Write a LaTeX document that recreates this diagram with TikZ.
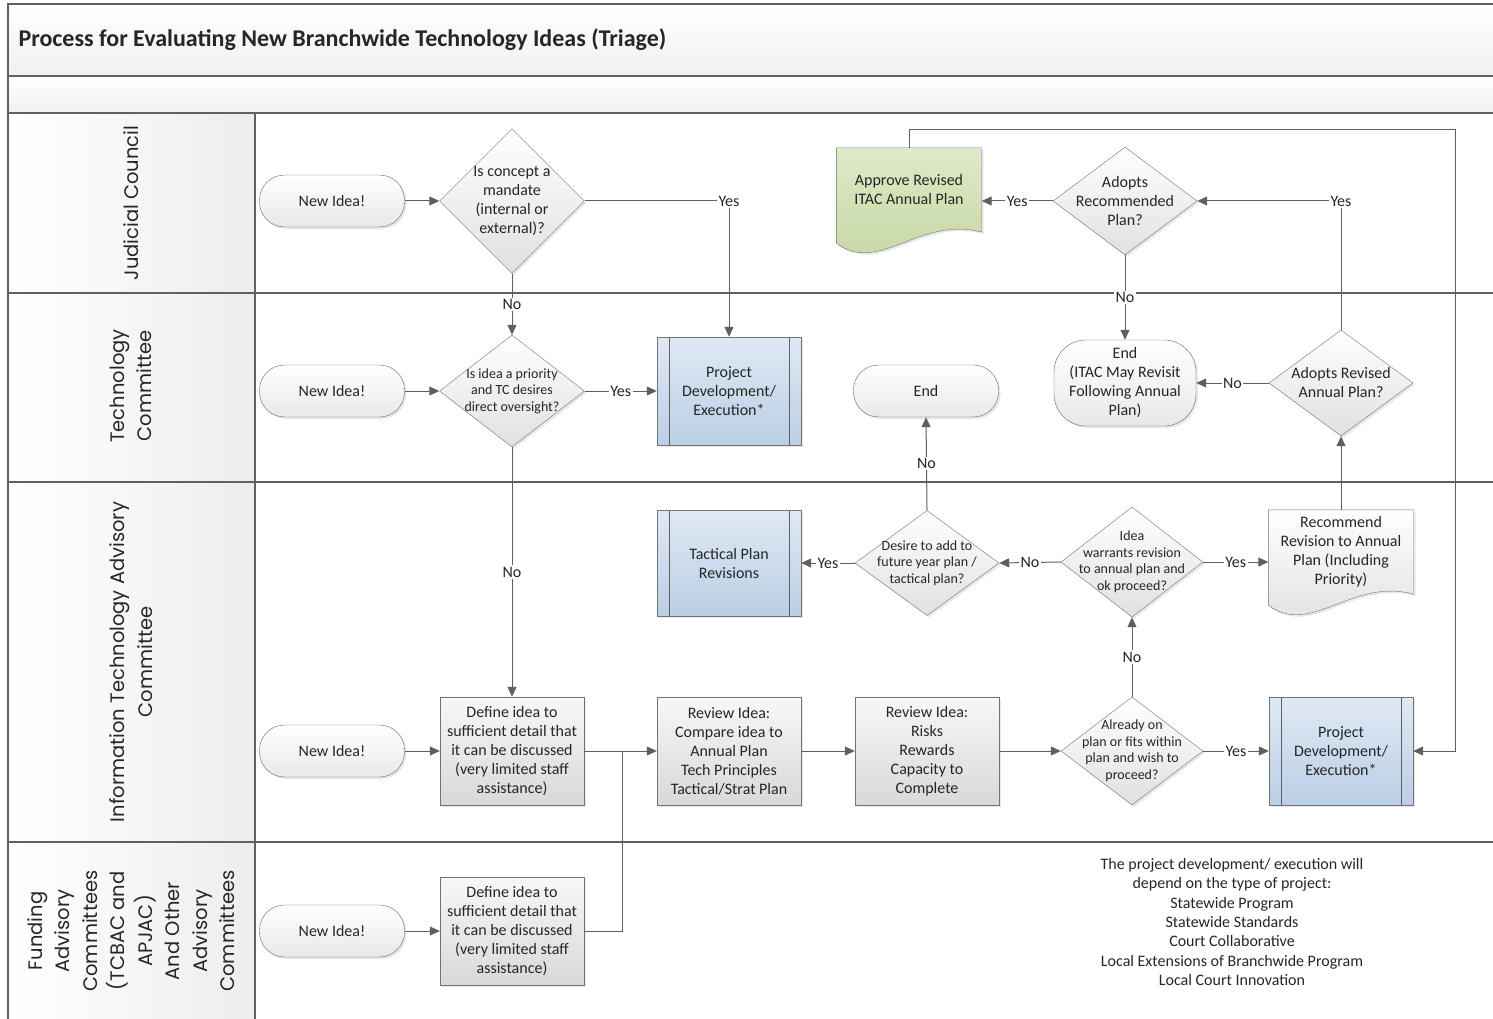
\documentclass[tikz,border=0pt]{standalone}
\usepackage{fontspec}
\setmainfont{Carlito}
\newfontfamily\lanefont{Poppins}
\usetikzlibrary{shapes.geometric, arrows.meta, shadows, backgrounds}

\definecolor{linegray}{RGB}{95,95,95}
\definecolor{subtop}{RGB}{223,233,244}
\definecolor{subbot}{RGB}{186,206,229}
\definecolor{greentop}{RGB}{222,233,200}
\definecolor{greenbot}{RGB}{196,214,160}

% outline of a document shape around a node
\newcommand{\docpath}[1]{(#1.north west) -- (#1.north east) -- (#1.south east)
  .. controls +(-62,-17) and +(43,32) .. ([yshift=-11pt]#1.south west) -- cycle}

\begin{document}
\begin{tikzpicture}[x=1pt, y=-1pt,
  every node/.style={font=\fontsize{16}{19}\selectfont, text=black!85, align=center},
  lane/.style={draw=black!62, line width=1.6pt},
  flow/.style={draw=linegray, line width=1pt, -{Triangle[length=10pt,width=9pt]}},
  plainline/.style={draw=linegray, line width=1pt},
  lbl/.style={fill=white, inner sep=1.5pt},
  softshadow/.style={drop shadow={opacity=0.18, shadow xshift=2pt, shadow yshift=-2pt}},
  term/.style={rectangle, rounded corners=25pt, draw=black!60, top color=white, bottom color=black!9,
    minimum width=145pt, minimum height=52pt, softshadow},
  endbig/.style={term, rounded corners=32pt, minimum width=142pt, minimum height=86pt},
  decide/.style={diamond, aspect=1.3, inner sep=-12pt, draw=black!55, top color=white, bottom color=black!12,
    minimum width=145pt, minimum height=108pt, softshadow},
  smalltxt/.style={font=\fontsize{14}{16.5}\selectfont},
  procbox/.style={rectangle, draw=black!55, top color=black!3, bottom color=black!15,
    minimum width=144pt, minimum height=108pt, inner sep=1pt, softshadow},
  subproc/.style={procbox, top color=subtop, bottom color=subbot,
    path picture={\draw[linegray, line width=0.8pt]
      ([xshift=12pt]path picture bounding box.north west) -- ([xshift=12pt]path picture bounding box.south west)
      ([xshift=-12pt]path picture bounding box.north east) -- ([xshift=-12pt]path picture bounding box.south east);}},
  docnode/.style={rectangle, minimum width=145pt, minimum height=84pt, inner sep=1pt},
  docshape/.style={draw=black!55, softshadow},
  lanelbl/.style={rotate=90, font=\lanefont\fontsize{19.5}{27.5}\selectfont}
]
\useasboundingbox (0,0) rectangle (1493,1019);

% Pool and lanes
\fill[top color=white, bottom color=black!6] (8,4) rectangle (1493,76);
\fill[top color=white, bottom color=black!6] (8,76) rectangle (1493,113);
\fill[left color=white, right color=black!7] (8,113) rectangle (255,1019);
\draw[lane] (8,1019) -- (8,4) -- (1493,4);
\foreach \y in {76,113,293,482,842} {
  \draw[lane] (8,\y) -- (1493,\y);
}
\draw[lane] (255,113) -- (255,1019);

\node[anchor=west, font=\bfseries\fontsize{24}{28}\selectfont] (title) at (15,40)
  {Process for Evaluating New Branchwide Technology Ideas (Triage)};

\node[lanelbl] (jclane) at (131,203) {Judicial Council};
\node[lanelbl] (tclane) at (131,386) {Technology\\Committee};
\node[lanelbl] (itlane) at (131,662) {Information Technology Advisory\\Committee};
\node[lanelbl] (fulane) at (131,931) {Funding\\Advisory\\Committees\\(TCBAC and\\APJAC)\\And Other\\Advisory\\Committees};

% Start points
\foreach \n/\y in {jc/201, tc/391, it/751, fu/931} {
  \node[term] (\n idea) at (332,\y) {New Idea!};
}

% Judicial Council
\node[decide, minimum height=145pt] (mandate) at (512,201) {Is concept a\\mandate\\(internal or\\external)?};
\node[docnode] (approve) at (909,190) {Approve Revised\\ITAC Annual Plan};
\node[decide, minimum width=144pt] (adoptrec) at (1125,201) {Adopts\\Recommended\\Plan?};

% Technology Committee
\node[decide, smalltxt, minimum height=112pt] (priority) at (512,391) {Is idea a priority\\and TC desires\\direct oversight?};
\node[subproc] (tcproj) at (729,391) {Project\\Development/\\Execution*};
\node[term] (tcend) at (926,391) {End};
\node[endbig] (itacend) at (1125,383) {End\\(ITAC May Revisit\\Following Annual\\Plan)};
\node[decide, minimum width=144pt, minimum height=106pt] (adoptrev) at (1341,383) {Adopts Revised\\Annual Plan?};

% Information Technology Advisory Committee
\node[subproc, minimum height=106pt] (tactical) at (729,563) {Tactical Plan\\Revisions};
\node[decide, smalltxt, minimum width=144pt, minimum height=105pt] (desire) at (927,563) {Desire to add to\\future year plan /\\tactical plan?};
\node[decide, smalltxt, minimum width=142pt, minimum height=110pt] (warrant) at (1132,562) {Idea\\warrants revision\\to annual plan and\\ok proceed?};
\node[docnode] (recommend) at (1341,552) {Recommend\\Revision to Annual\\Plan (Including\\Priority)};
\node[procbox] (itdefine) at (512,751) {Define idea to\\sufficient detail that\\it can be discussed\\(very limited staff\\assistance)};
\node[procbox] (compare) at (729,751) {Review Idea:\\Compare idea to\\Annual Plan\\Tech Principles\\Tactical/Strat Plan};
\node[procbox] (risks) at (927,751) {Review Idea:\\Risks\\Rewards\\Capacity to\\Complete};
\node[decide, smalltxt, minimum width=142pt] (already) at (1132,751) {Already on\\plan or fits within\\plan and wish to\\proceed?};
\node[subproc] (itproj) at (1341,751) {Project\\Development/\\Execution*};

% Funding and other advisory committees
\node[procbox] (fudefine) at (512,931) {Define idea to\\sufficient detail that\\it can be discussed\\(very limited staff\\assistance)};
\node[font=\fontsize{16}{19.3}\selectfont] (note) at (1232,922) {The project development/ execution will\\depend on the type of project:\\Statewide Program\\Statewide Standards\\Court Collaborative\\Local Extensions of Branchwide Program\\Local Court Innovation};

% Document shapes
\begin{pgfonlayer}{background}
\path[docshape, top color=greentop, bottom color=greenbot] \docpath{approve};
\path[docshape, top color=white, bottom color=black!13] \docpath{recommend};
\end{pgfonlayer}

% Connectors
\coordinate (loopturn) at (1455,130);
\coordinate (merge) at (622,751);
\draw[flow] (jcidea) -- (mandate);
\draw[flow] (mandate.east) -| node[lbl, pos=0.5] {Yes} (tcproj.north);
\draw[flow] (mandate.south) -- node[lbl] {No} (priority.north);
\draw[flow] (tcidea) -- (priority);
\draw[flow] (priority.east) -- node[lbl] {Yes} (tcproj.west);
\draw[flow] (priority.south) -- node[lbl] {No} (itdefine.north);
\draw[flow] (adoptrec.west) -- node[lbl] {Yes} (adoptrec.west -| approve.east);
\draw[flow] (adoptrec.south) -- node[lbl] {No} (itacend.north);
\draw[flow] (approve.north) |- (loopturn) |- (itproj.east);
\draw[flow] (adoptrev.north) |- node[lbl, pos=0.5] {Yes} (adoptrec.east);
\draw[flow] (adoptrev.west) -- node[lbl] {No} (itacend.east);
\draw[flow] (recommend.north) -- (adoptrev.south);
\draw[flow] (warrant.west) -- node[lbl] {No} (desire.east);
\draw[flow] (warrant.east) -- node[lbl] {Yes} (recommend.west |- warrant.east);
\draw[flow] (desire.west) -- node[lbl] {Yes} (tactical.east);
\draw[flow] (desire.north) -- node[lbl] {No} (tcend.south);
\draw[flow] (itidea) -- (itdefine);
\draw[flow] (itdefine) -- (compare);
\draw[plainline] (fudefine.east) -| (merge);
\draw[flow] (fuidea) -- (fudefine);
\draw[flow] (compare) -- (risks);
\draw[flow] (risks) -- (already);
\draw[flow] (already.north) -- node[lbl] {No} (warrant.south);
\draw[flow] (already.east) -- node[lbl] {Yes} (itproj.west);
\end{tikzpicture}
\end{document}
